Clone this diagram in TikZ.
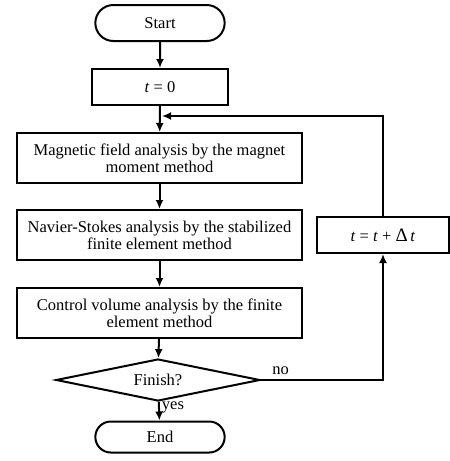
\documentclass[tikz,border=0pt]{standalone}
\usepackage{fontspec}
\setmainfont{Liberation Serif}
\usetikzlibrary{shapes, arrows, arrows.meta, positioning}

\begin{document}
\begin{tikzpicture}[x=1pt,y=-1pt,line width=2pt,
		every node/.style={font=\fontsize{16.5}{17}\selectfont},
		box/.style={draw,rectangle,align=center,minimum width=285pt,minimum height=50pt,inner sep=2pt},
		small/.style={draw,rectangle,minimum width=136pt,minimum height=36pt},
		term/.style={draw,rounded rectangle,minimum width=136pt,minimum height=36pt},
		test/.style={draw,diamond,aspect=4.8,inner sep=1pt,minimum width=204pt,minimum height=42pt},
		arr/.style={-{Latex[length=9pt,width=8pt]}}]
		\useasboundingbox (0,0) rectangle (450,461);
		\node [term] at (160,23) (start) {Start};
		\node [small] at (160,87) (tzero) {\textit{t} = 0};
		\node [box] at (159.5,158) (magnet) {Magnetic field analysis by the magnet\\moment method};
		\node [box] at (159.5,235) (navier) {Navier-Stokes analysis by the stabilized\\finite element method};
		\node [box] at (159.5,313) (control) {Control volume analysis by the finite\\element method};
		\node [test] at (158,380) (finish) {Finish?};
		\node [term,minimum height=31pt] at (160,437) (end) {End};
		\node [small,minimum width=132pt] at (383,235) (step) {\textit{t} = \textit{t} + {\fontsize{19}{17}\selectfont Δ}\,\textit{t}};
		\coordinate (back) at (162,116);
		\draw [arr] (start) -- (tzero);
		\draw [arr] (tzero) -- (magnet);
		\draw [arr] (magnet) -- (navier);
		\draw [arr] (navier) -- (control);
		\draw [arr] (control) -- (finish);
		\draw [arr] (finish) -- node [pos=0.3,right,inner sep=2pt] {yes} (end);
		\draw [arr] (finish.east) -| node [pos=0.08,above,inner sep=4pt] {no} (step);
		\draw [arr] (step) |- (back);
	\end{tikzpicture}
\end{document}
